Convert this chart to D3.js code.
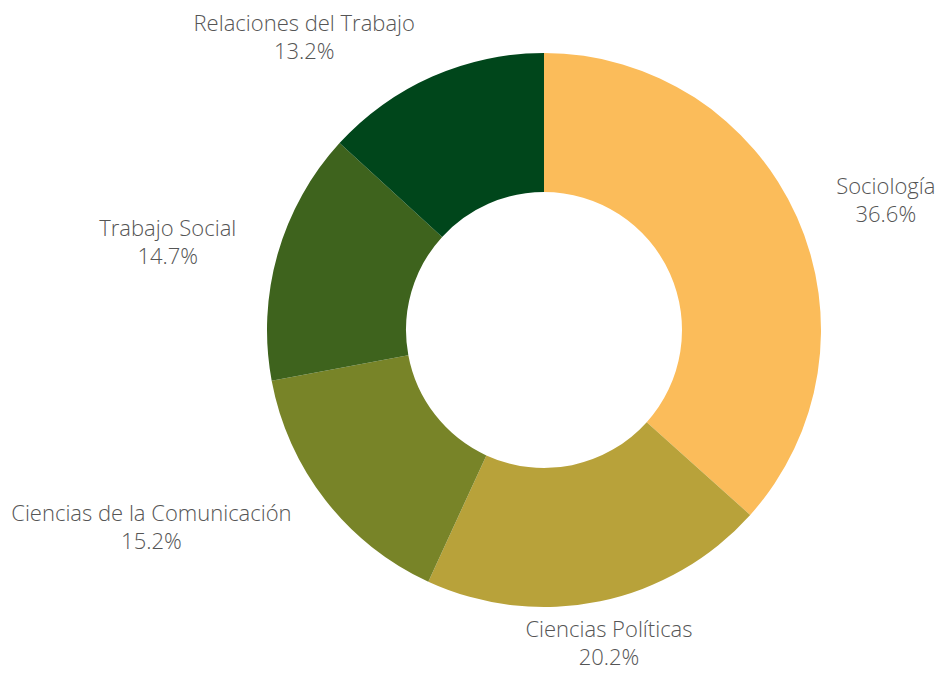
<!DOCTYPE html>
<meta charset="utf-8">
<html>
<head>
    <script src="https://d3js.org/d3.v7.min.js"></script>
</head>
<style>
    body { margin: 0; background: white; }
    text { font-family: "Open Sans", sans-serif; font-size: 22px; font-weight: 300; fill: #555555; }
</style>
<body>
<div id="chart"></div>
<script>

// data
var carreras = ["Sociología", "Ciencias Políticas", "Ciencias de la Comunicación", "Trabajo Social", "Relaciones del Trabajo"];
var porcentajes = [36.6, 20.2, 15.2, 14.7, 13.2];
var colores = ["#fbbc5a", "#b8a23a", "#788428", "#3e631d", "#00461b"];

// sizes
const width = 939, height = 673;
const cx = 544, cy = 330;
const outerR = 277, innerR = 138;
const labelR = 320;
const lineGap = 28;

var datos = carreras.map((c, i) => ({ name: c, value: porcentajes[i], color: colores[i] }));

const svg = d3.select("#chart")
    .append("svg")
    .attr("width", width)
    .attr("height", height);

const g = svg.append("g")
    .attr("transform", "translate(" + cx + "," + cy + ")");

var pie = d3.pie()
    .sort(null)
    .value(d => d.value);

var arc = d3.arc()
    .innerRadius(innerR)
    .outerRadius(outerR);

var arcs = pie(datos);

g.selectAll("path")
    .data(arcs)
    .enter()
    .append("path")
    .attr("d", arc)
    .attr("fill", d => d.data.color);

var midAngle = d => (d.startAngle + d.endAngle) / 2;
var isBottomOrTop = d => Math.abs(Math.sin(midAngle(d))) < 0.3;

// labels: vertical position from the mid angle, text pushed outward horizontally
var labels = g.selectAll("g.label")
    .data(arcs)
    .enter()
    .append("g")
    .attr("class", "label")
    .attr("transform", function(d) {
        var a = midAngle(d);
        var x = labelR * Math.sin(a);
        var y = -labelR * Math.cos(a);
        return "translate(" + x + "," + y + ")";
    })
    .attr("text-anchor", function(d) {
        if (isBottomOrTop(d)) return "middle";
        return Math.sin(midAngle(d)) > 0 ? "start" : "end";
    });

labels.append("text")
    .attr("y", -6)
    .text(d => d.data.name);

labels.append("text")
    .attr("y", -6 + lineGap)
    .attr("dx", function(d) {
        // percentage is centred under the name
        if (isBottomOrTop(d)) return 0;
        var w = this.parentNode.querySelector("text").getComputedTextLength();
        return Math.sin(midAngle(d)) > 0 ? w / 2 : -w / 2;
    })
    .attr("text-anchor", "middle")
    .text(d => d.data.value.toFixed(1) + "%");

</script>
</body>
</html>
